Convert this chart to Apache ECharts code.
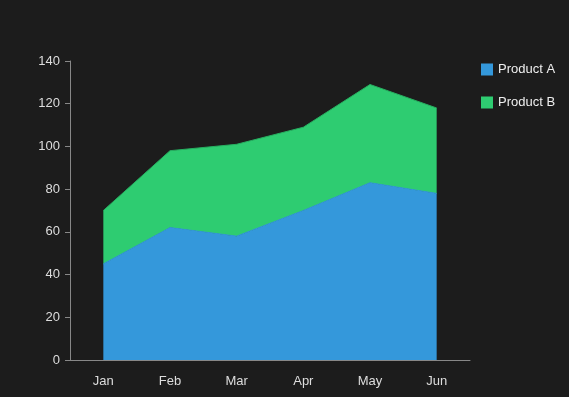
<!DOCTYPE html>
<html><head><meta charset="utf-8">
<script src="https://cdn.jsdelivr.net/npm/echarts@6/dist/echarts.min.js"></script>
<style>html,body{margin:0;padding:0;background:#1c1c1c;}#c{width:569px;height:397px;}</style>
</head><body><div id="c"></div>
<script>
const categories = ['Jan','Feb','Mar','Apr','May','Jun'];
const productA = [45, 62, 58, 70, 83, 78];
const productB = [25, 36, 43, 39, 46, 40];
const yTicks = {min: 0, max: 140, interval: 20};

const chart = echarts.init(document.getElementById('c'));
chart.setOption({
  backgroundColor: '#1c1c1c',
  animation: false,
  grid: {left: 70, right: 99, top: 61, bottom: 37},
  legend: {
    orient: 'vertical', left: 476, top: 58,
    itemWidth: 12, itemHeight: 12, itemGap: 20,
    icon: 'rect',
    textStyle: {color: '#eeeeee', fontSize: 13, fontFamily: 'Liberation Sans, Arial, sans-serif'},
    data: ['Product A', 'Product B']
  },
  xAxis: {
    type: 'category', data: categories, boundaryGap: true,
    axisLine: {lineStyle: {color: '#888888'}},
    axisTick: {alignWithLabel: true, length: 5, lineStyle: {color: '#888888'}},
    axisLabel: {color: '#dddddd', fontSize: 13, margin: 15, fontFamily: 'Liberation Sans, Arial, sans-serif'},
    splitLine: {show: false}
  },
  yAxis: {
    type: 'value', min: yTicks.min, max: yTicks.max, interval: yTicks.interval,
    axisLine: {show: true, lineStyle: {color: '#888888'}},
    axisTick: {show: true, length: 5, lineStyle: {color: '#888888'}},
    axisLabel: {color: '#dddddd', fontSize: 13, margin: 10, fontFamily: 'Liberation Sans, Arial, sans-serif'},
    splitLine: {show: false}
  },
  series: [
    {name: 'Product A', type: 'line', stack: 'total', data: productA,
     showSymbol: false, symbol: 'none', itemStyle: {color: '#3498db'},
     lineStyle: {width: 1, color: '#3498db'}, areaStyle: {color: '#3498db', opacity: 1}},
    {name: 'Product B', type: 'line', stack: 'total', data: productB,
     showSymbol: false, symbol: 'none', itemStyle: {color: '#2ecc71'},
     lineStyle: {width: 1, color: '#27ae60'}, areaStyle: {color: '#2ecc71', opacity: 1}}
  ]
});
</script></body></html>
